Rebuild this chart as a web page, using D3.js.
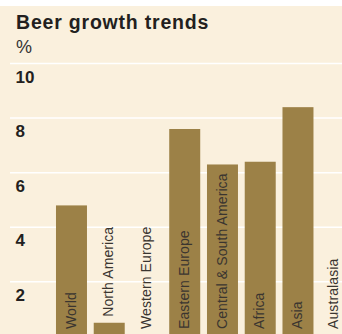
<!DOCTYPE html>
<html>
<head>
<meta charset="utf-8">
<script src="https://cdn.jsdelivr.net/npm/d3@7"></script>
<style>
html,body{margin:0;padding:0;background:#fff;}
svg{display:block;font-family:"Liberation Sans",Arial,Helvetica,sans-serif;}
</style>
</head>
<body>
<svg id="chart" width="342" height="334"></svg>
<script>
const categories = ["World","North America","Western Europe","Eastern Europe","Central & South America","Africa","Asia","Australasia"];
const values = [4.8, 0.5, -0.4, 7.6, 6.3, 6.4, 8.4, -0.2];
const yTicks = [2, 4, 6, 8, 10];
const title = "Beer growth trends";
const unit = "%";

const W = 342, H = 334;
const svg = d3.select("#chart");

svg.append("rect").attr("x",0).attr("y",6).attr("width",W).attr("height",H-6).attr("fill","#faf0dd");

const y = d3.scaleLinear().domain([0,10]).range([336.4,63.5]);
const x = d3.scaleBand().domain(categories).range([52.6,354.6]).paddingInner(0.179).paddingOuter(0.0895);

// gridlines
svg.append("g").selectAll("line").data(yTicks).join("line")
  .attr("x1",10).attr("x2",W)
  .attr("y1",d=>y(d)).attr("y2",d=>y(d))
  .attr("stroke","#ffffff").attr("stroke-width",1.5);

// tick labels
svg.append("g").selectAll("text").data(yTicks).join("text")
  .attr("x",15.5).attr("y",d=>y(d)+19)
  .attr("font-size",17).attr("font-weight","bold").attr("fill","#231f20")
  .text(d=>d);

// bars
const data = categories.map((c,i)=>({c, v: values[i]}));
svg.append("g").selectAll("rect").data(data).join("rect")
  .attr("x",d=>x(d.c)).attr("width",x.bandwidth())
  .attr("y",d=>y(Math.max(0,d.v)))
  .attr("height",d=>Math.abs(y(d.v)-y(0)))
  .attr("fill","#9c8147");

// category labels
function labelY(d){
  const top = y(Math.max(0,d.v));
  return (d.v > 0 && top > 290) ? top - 6 : 329;
}
function labelX(d){
  return Math.min(x(d.c) + x.bandwidth()/2 - 1, W - 9);
}
svg.append("g").selectAll("text").data(data).join("text")
  .attr("transform",d=>`translate(${labelX(d)},${labelY(d)}) rotate(-90)`)
  .attr("dy","0.36em")
  .attr("font-size",14).attr("letter-spacing",0.1).attr("fill","#3a3530")
  .text(d=>d.c);

// title
svg.append("text").attr("x",16).attr("y",28.5).attr("font-size",19.5).attr("letter-spacing",0.8).attr("font-weight","bold").attr("fill","#231f20").text(title);
svg.append("text").attr("x",16).attr("y",53).attr("font-size",18).attr("fill","#333333").text(unit);
</script>
</body>
</html>
